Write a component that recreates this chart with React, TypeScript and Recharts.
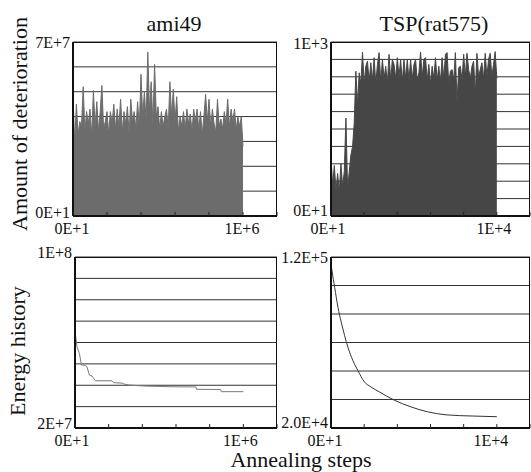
import React from 'react';
import { ComposedChart, Area, Line, XAxis, YAxis, CartesianGrid } from 'recharts';

const FONT = 'Liberation Serif';

// ami49 amount of deterioration, one reading every 1E+4 steps (unit 1E+6)
const amiDeterioration = [
  48, 30, 45, 33, 38, 36, 52, 34, 42, 37,
  43, 32, 50.5, 36, 46, 34, 42, 52.5, 35, 38,
  42, 33, 42, 37, 45, 35, 43, 36, 47, 34,
  42, 37, 44, 33, 47, 38, 42, 35, 46, 36,
  57, 40, 50, 38, 66, 42, 54, 37, 61, 40,
  44, 35, 42, 36, 40, 43, 35, 54, 40, 51,
  38, 48, 34, 40, 36, 42, 35, 43, 37, 41,
  34, 43, 38, 43, 35, 42, 33, 40, 49, 38,
  47, 36, 43, 37, 34, 47, 36, 39, 35, 42,
  37, 47, 36, 43, 38, 43, 35, 40, 36, 40, 28,
];

// TSP(rat575) amount of deterioration, one reading every 100 steps
const tspDeterioration = [
  330, 180, 290, 150, 245, 140, 300, 170, 254, 563,
  160, 254, 351, 399, 534, 832, 640, 823, 760, 942,
  760, 861, 890, 770, 881, 780, 910, 760, 871, 939,
  770, 900, 790, 861, 760, 929, 780, 900, 871, 790,
  910, 800, 900, 770, 900, 790, 900, 780, 900, 790,
  871, 900, 780, 823, 942, 800, 900, 910, 780, 871,
  760, 861, 790, 910, 780, 861, 770, 910, 790, 929,
  939, 760, 832, 842, 780, 939, 650, 852, 861, 780,
  929, 800, 935, 842, 790, 861, 890, 700, 935, 800,
  842, 881, 790, 935, 800, 900, 935, 800, 871, 945, 790,
];

// energy history (ami49 in 1E+6, TSP in 1E+3)
const amiEnergySteps = [0, 2000, 12000, 26000, 38000, 61000, 71000, 85000, 101000, 111000, 121000, 220000, 230000, 280000, 290000, 320000, 419000, 577000, 718000, 722000, 865000, 869000, 1000000];
const amiEnergyValues = [66, 64, 58, 54.9, 49.5, 49.3, 48.7, 44.8, 44.3, 43.2, 42.1, 42.1, 41.2, 41.0, 40.6, 40.1, 39.6, 39.3, 39.2, 38.1, 38.0, 37.0, 37.0];

const tspEnergySteps = [0, 60, 222, 419, 617, 820, 1018, 1317, 1617, 2018, 2413, 2916, 3814, 4808, 5808, 6940, 8530, 10000];
const tspEnergyValues = [116, 111.9, 102.2, 90.6, 81.9, 74.1, 67.3, 59.5, 53.7, 46.9, 44.0, 41.1, 36.3, 32.4, 29.5, 27.7, 27.0, 26.6];

const amiSteps = [0, 200000, 400000, 600000, 800000, 1000000, 1200000];
const tspSteps = [0, 2000, 4000, 6000, 8000, 10000, 12000];
const amiDetTicks = [0, 1e7, 2e7, 3e7, 4e7, 5e7, 6e7, 7e7];
const tspDetTicks = [0, 100, 200, 300, 400, 500, 600, 700, 800, 900, 1000];
const amiEnergyTicks = [2e7, 3e7, 4e7, 5e7, 6e7, 7e7, 8e7, 9e7, 1e8];
const tspEnergyTicks = [20000, 36667, 53333, 70000, 86667, 103333, 120000];

const amiDetData = amiDeterioration.map((v, i) => ({ step: i * 10000, amount: v * 1e6 }));
const tspDetData = tspDeterioration.map((v, i) => ({ step: i * 100, amount: v }));
const amiEnergyData = amiEnergySteps.map((s, i) => ({ step: s, energy: amiEnergyValues[i] * 1e6 }));
const tspEnergyData = tspEnergySteps.map((s, i) => ({ step: s, energy: tspEnergyValues[i] * 1000 }));

const YW = 72;
const MT = 12;
const MR = 2;
const XH = 28;

const makeXTick = (labels: Record<number, string>, dx: number) => (props: any) => {
  const { x, y, payload } = props;
  const label = labels[payload.value];
  return (
    <g>
      <line x1={x} x2={x} y1={y} y2={y - 4} stroke="#222" />
      {label && (
        <text x={x + dx} y={y + 12} textAnchor="middle" dominantBaseline="central" fontFamily={FONT} fontSize={16} fill="#111">
          {label}
        </text>
      )}
    </g>
  );
};

const makeYTick = (labels: Record<number, string>, dys: Record<number, number>) => (props: any) => {
  const { x, y, payload } = props;
  const label = labels[payload.value];
  if (!label) return <g />;
  return (
    <text x={x - 3} y={y + (dys[payload.value] || 0)} textAnchor="end" dominantBaseline="central" fontFamily={FONT} fontSize={16} fill="#111">
      {label}
    </text>
  );
};

function Panel(props: any) {
  const { box, data, xMax, xTicks, xLabels, xDx, yDomain, yTicks, yLabels, yDys, children } = props;
  const [bx, by, bw, bh] = box;
  return (
    <div style={{ position: 'absolute', left: bx - YW, top: by - MT }}>
      <ComposedChart width={YW + bw + MR} height={MT + bh + XH} data={data} margin={{ top: MT, right: MR, left: 0, bottom: 0 }}>
        <CartesianGrid vertical={false} stroke="#333" />
        <XAxis
          type="number"
          dataKey="step"
          domain={[0, xMax]}
          ticks={xTicks}
          interval={0}
          height={XH}
          tickSize={0}
          tickMargin={0}
          tickLine={false}
          axisLine={{ stroke: '#111', strokeWidth: 2 }}
          tick={makeXTick(xLabels, xDx)}
        />
        <YAxis
          type="number"
          domain={yDomain}
          ticks={yTicks}
          interval={0}
          width={YW}
          tickSize={0}
          tickMargin={0}
          tickLine={false}
          axisLine={{ stroke: '#111', strokeWidth: 2 }}
          tick={makeYTick(yLabels, yDys)}
        />
        {children}
      </ComposedChart>
      <div
        style={{
          position: 'absolute',
          left: YW,
          top: MT,
          width: bw,
          height: bh,
          borderTop: '1px solid #111',
          borderRight: '1px solid #111',
          boxSizing: 'border-box',
          pointerEvents: 'none',
        }}
      />
    </div>
  );
}

export default function App() {
  return (
    <div style={{ position: 'absolute', left: 0, top: 0, width: 531, height: 472, background: '#fff', overflow: 'hidden' }}>
      <Panel
        box={[73, 42, 204, 174]}
        data={amiDetData}
        xMax={1200000}
        xTicks={amiSteps}
        xLabels={{ 0: '0E+1', 1000000: '1E+6' }}
        xDx={-1}
        yDomain={[0, 7e7]}
        yTicks={amiDetTicks}
        yLabels={{ 0: '0E+1', 70000000: '7E+7' }}
        yDys={{ 0: -4 }}
      >
        <Area type="linear" dataKey="amount" stroke="#6c6c6c" strokeWidth={1} fill="#6c6c6c" fillOpacity={1} dot={false} isAnimationActive={false} />
      </Panel>
      <Panel
        box={[331, 42, 199, 174]}
        data={tspDetData}
        xMax={12000}
        xTicks={tspSteps}
        xLabels={{ 0: '0E+1', 10000: '1E+4' }}
        xDx={-3}
        yDomain={[0, 1000]}
        yTicks={tspDetTicks}
        yLabels={{ 0: '0E+1', 1000: '1E+3' }}
        yDys={{ 0: -6, 1000: 1 }}
      >
        <Area type="linear" dataKey="amount" stroke="#464646" strokeWidth={1} fill="#464646" fillOpacity={1} dot={false} isAnimationActive={false} />
      </Panel>
      <Panel
        box={[75, 257, 202, 171]}
        data={amiEnergyData}
        xMax={1200000}
        xTicks={amiSteps}
        xLabels={{ 0: '0E+1', 1000000: '1E+6' }}
        xDx={-3}
        yDomain={[2e7, 1e8]}
        yTicks={amiEnergyTicks}
        yLabels={{ 20000000: '2E+7', 100000000: '1E+8' }}
        yDys={{ 20000000: -5, 100000000: -5 }}
      >
        <Line type="linear" dataKey="energy" stroke="#7a7a7a" strokeWidth={1} dot={false} isAnimationActive={false} />
      </Panel>
      <Panel
        box={[331, 257, 199, 171]}
        data={tspEnergyData}
        xMax={12000}
        xTicks={tspSteps}
        xLabels={{ 0: '0E+1', 10000: '1E+4' }}
        xDx={-6}
        yDomain={[20000, 120000]}
        yTicks={tspEnergyTicks}
        yLabels={{ 20000: '2.0E+4', 120000: '1.2E+5' }}
        yDys={{ 20000: -6 }}
      >
        <Line type="monotone" dataKey="energy" stroke="#333" strokeWidth={1} dot={false} isAnimationActive={false} />
      </Panel>
      <svg width={531} height={472} style={{ position: 'absolute', left: 0, top: 0, pointerEvents: 'none' }}>
        <g fontFamily={FONT} fontSize={22} fill="#111">
          <text x={174} y={31} textAnchor="middle">ami49</text>
          <text x={434} y={31} textAnchor="middle">TSP(rat575)</text>
          <text transform="translate(27,124) rotate(-90)" textAnchor="middle">Amount of deterioration</text>
          <text transform="translate(25,351) rotate(-90)" textAnchor="middle">Energy history</text>
          <text x={301} y={467} textAnchor="middle">Annealing steps</text>
        </g>
      </svg>
    </div>
  );
}
